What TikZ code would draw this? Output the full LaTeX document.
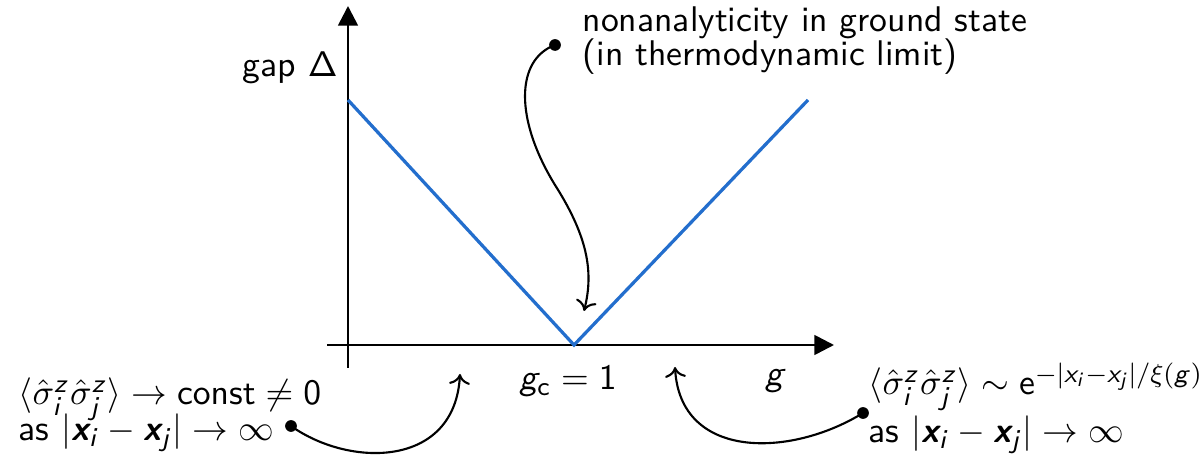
\documentclass[tikz,border=0pt]{standalone}
\usetikzlibrary{arrows.meta}
\DeclareMathAlphabet{\mathsfup}{OT1}{cmss}{m}{n}
\DeclareMathAlphabet{\mathsfit}{OT1}{cmss}{m}{sl}
\definecolor{gapblue}{RGB}{35,110,205}
\newcommand{\bvec}{\mbox{\sffamily\bfseries\slshape x}}
\newcommand{\corr}{\langle\hat\sigma^{\mathsfit{z}}_{\mathsfit{i}}\hat\sigma^{\mathsfit{z}}_{\mathsfit{j}}\rangle}
\newcommand{\dist}{|\bvec_{\mathsfit{i}}-\bvec_{\mathsfit{j}}|}
\newcommand{\sdist}{|\mathsfit{x}_{\mathsfit{i}}-\mathsfit{x}_{\mathsfit{j}}|}
\begin{document}
\begin{tikzpicture}[x=0.307pt,y=-0.307pt,
  font=\sffamily\fontsize{10.95}{13}\selectfont,
  axis/.style={line width=0.8pt,-{Triangle[length=6pt,width=6pt]}},
  pointer/.style={line width=0.65pt,-{Computer Modern Rightarrow[length=3.2pt,width=6.4pt]}},
  lbl/.style={inner sep=0pt,anchor=base west},
  dot/.style={circle,fill=black,inner sep=0pt,minimum size=3.6pt}]
\useasboundingbox (0,0) rectangle (1200,458);
% axes
\coordinate (ybot) at (348,368);
\coordinate (ytop) at (348,6);
\coordinate (xleft) at (327,345);
\coordinate (xright) at (834,345);
\draw[axis] (ybot) -- (ytop);
\draw[axis] (xleft) -- (xright);
% gap curve
\coordinate (gl) at (348,100);
\coordinate (gcpt) at (574,345);
\coordinate (gr) at (808,100);
\draw[gapblue,line width=1pt] (gl) -- (gcpt) -- (gr);
% labels
\node[lbl] (gap) at (242,77) {gap $\mathsfup{\Delta}$};
\node[inner sep=0pt,anchor=base] (gc) at (568,390) {$\mathsfit{g}_{\mathsfup{c}}=\mathsfup{1}$};
\node[inner sep=0pt,anchor=base] (glab) at (776,386) {$\mathsfit{g}$};
\node[lbl] (top1) at (582,32) {nonanalyticity in ground state};
\node[lbl] (top2) at (582,66) {(in thermodynamic limit)};
\node[lbl] (bl1) at (18,405) {$\corr\to\mathsfup{const}\neq\mathsfup{0}$};
\node[lbl] (bl2) at (18,441) {as $\dist\to\infty$};
\node[lbl] (br1) at (868,395) {$\corr\sim\mathsfup{e}^{-\sdist/\xi(\mathsfit{g})}$};
\node[lbl] (br2) at (868,443) {as $\dist\to\infty$};
% pointers
\node[dot] (dtop) at (555,45) {};
\coordinate (ttop) at (584,311);
\draw[pointer] (dtop.center) .. controls (515,60) and (515,120) .. (555,185)
  .. controls (590,240) and (593,275) .. (ttop);
\node[dot] (dbl) at (291,426) {};
\coordinate (tbl) at (460,374);
\draw[pointer] (dbl.center) .. controls (350,468) and (455,468) .. (tbl);
\node[dot] (dbr) at (863,413) {};
\coordinate (tbr) at (675,367);
\draw[pointer] (dbr.center) .. controls (790,458) and (680,460) .. (tbr);
\end{tikzpicture}
\end{document}
